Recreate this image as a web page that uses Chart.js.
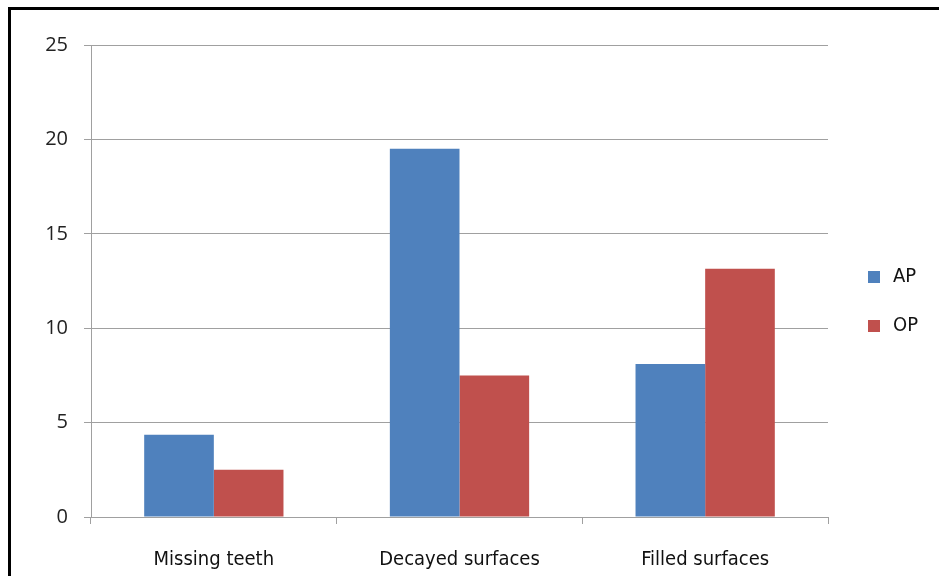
<!DOCTYPE html>
<html>
<head>
<meta charset="utf-8">
<script src="https://cdn.jsdelivr.net/npm/chart.js@4"></script>
<style>
  body { margin: 0; background: #fff; }
  #wrap { position: relative; width: 939px; height: 576px; overflow: hidden; }
  #frame {
    position: absolute; left: 8px; top: 7px; width: 1000px; height: 700px;
    border-left: 3px solid #000; border-top: 3px solid #000;
  }
  canvas { position: absolute; left: 0; top: 0; }
  .leg { position: absolute; left: 868px; font: 20px "Liberation Sans Narrow", "DejaVu Sans Condensed", sans-serif; color: #111; }
  .leg span { display: inline-block; width: 12px; height: 12px; margin-right: 13px; vertical-align: -1px; }
</style>
</head>
<body>
<div id="wrap">
  <div id="frame"></div>
  <canvas id="chart" width="939" height="576"></canvas>
  <div class="leg" style="top:263px"><span style="background:#4F81BD"></span>AP</div>
  <div class="leg" style="top:312px"><span style="background:#C0504D"></span>OP</div>
</div>
<script>
// data
const categories = ["Missing teeth", "Decayed surfaces", "Filled surfaces"];
const apValues = [4.35, 19.5, 8.1];
const opValues = [2.5, 7.5, 13.15];
const seriesNames = ["AP", "OP"];

const gridColor = "#A0A0A0";

const ctx = document.getElementById("chart").getContext("2d");
new Chart(ctx, {
  type: "bar",
  data: {
    labels: categories,
    datasets: [
      { label: seriesNames[0], data: apValues, backgroundColor: "#4F81BD" },
      { label: seriesNames[1], data: opValues, backgroundColor: "#C0504D" },
    ],
  },
  options: {
    responsive: false,
    animation: false,
    layout: { padding: { top: 45, right: 111, left: 0, bottom: 0 } },
    datasets: { bar: { categoryPercentage: 0.567, barPercentage: 1 } },
    plugins: { legend: { display: false }, tooltip: { enabled: false } },
    scales: {
      x: {
        afterFit: (scale) => { scale.height = 59; },
        grid: { drawOnChartArea: false, tickLength: 7, color: gridColor, offset: true },
        border: { color: gridColor, width: 1 },
        ticks: {
          padding: 24,
          color: "#111",
          font: { size: 20, family: "'Liberation Sans Narrow', 'DejaVu Sans Condensed', sans-serif" },
        },
      },
      y: {
        min: 0,
        max: 25,
        afterFit: (scale) => { scale.width = 91; },
        grid: { color: gridColor, tickLength: 7 },
        border: { color: gridColor, width: 1 },
        ticks: {
          stepSize: 5,
          padding: 16,
          color: "#222",
          font: { size: 20, family: "'Open Sans', sans-serif" },
        },
      },
    },
  },
});
</script>
</body>
</html>
